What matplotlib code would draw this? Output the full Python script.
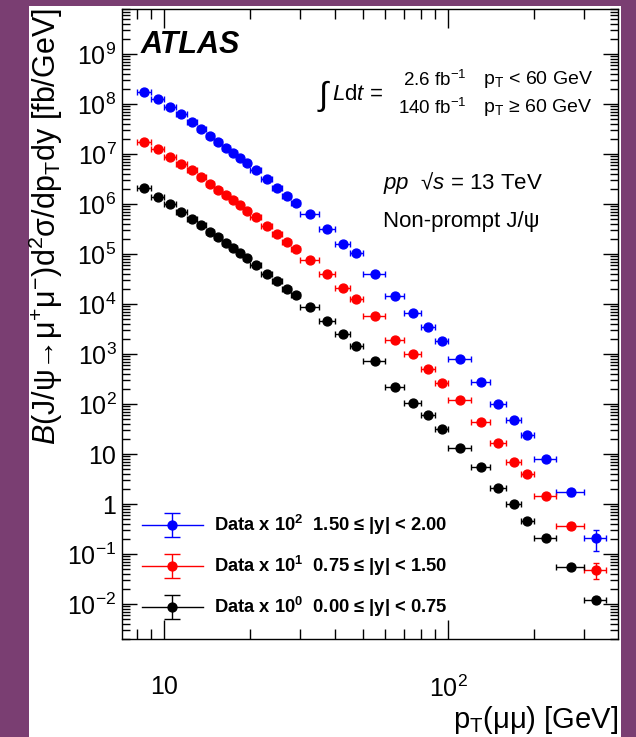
import numpy as np
import matplotlib
matplotlib.use('Agg')
import matplotlib.pyplot as plt
from matplotlib.patches import Rectangle
from matplotlib.ticker import LogLocator, FuncFormatter, NullFormatter
from matplotlib.legend_handler import HandlerErrorbar, HandlerTuple
from matplotlib.container import ErrorbarContainer
from matplotlib.lines import Line2D

plt.rcParams['font.family'] = ['Liberation Sans', 'DejaVu Sans']
plt.rcParams['mathtext.fontset'] = 'custom'
plt.rcParams['mathtext.rm'] = 'Liberation Sans'
plt.rcParams['mathtext.it'] = 'Liberation Sans:italic'
plt.rcParams['mathtext.bf'] = 'Liberation Sans:bold'
plt.rcParams['mathtext.sf'] = 'Liberation Sans'

# ---------------- data ----------------
pt_edges = [8, 9, 10, 11, 12, 13, 14, 15, 16, 17, 18, 19, 20, 22, 24, 26, 28, 30,
            35, 40, 45, 50, 60, 70, 80, 90, 100, 120, 140, 160, 180, 200, 240, 300, 360]

# plotted values (already scaled by 10^2, 10^1, 10^0)
xs_blue = [1.77e8, 1.27e8, 8.9e7, 6.27e7, 4.4e7, 3.18e7, 2.31e7, 1.77e7, 1.35e7, 1.04e7,
           8.5e6, 6.65e6, 4.82e6, 3.18e6, 2.07e6, 1.46e6, 1.07e6, 6.35e5, 3.14e5, 1.62e5,
           1.04e5, 4.0e4, 1.46e4, 6.56e3, 3.54e3, 1.83e3, 811, 274, 101, 48.2,
           23.8, 7.9, 1.73, 0.21]
xs_red = [1.77e7, 1.27e7, 8.9e6, 6.44e6, 4.75e6, 3.44e6, 2.56e6, 1.95e6, 1.52e6, 1.19e6,
          9.5e5, 7.4e5, 5.53e5, 3.71e5, 2.53e5, 1.73e5, 1.25e5, 7.74e4, 4.05e4, 2.12e4,
          1.24e4, 5.8e3, 1.95e3, 993, 512, 265, 123, 44, 16.5, 7.06,
          4.0, 1.48, 0.366, 0.049]
xs_black = [2.07e6, 1.41e6, 9.93e5, 7.06e5, 5.12e5, 3.78e5, 2.81e5, 2.17e5, 1.67e5, 1.31e5,
            1.04e5, 8.26e4, 6.07e4, 4.06e4, 2.86e4, 1.98e4, 1.50e4, 8.9e3, 4.6e3, 2.53e3,
            1.46e3, 729, 217, 107, 59.8, 31.8, 13.5, 5.46, 2.07, 1.02,
            0.456, 0.206, 0.0548, 0.0121]

# relative uncertainties
rel_blue = [0.04] * 28 + [0.05, 0.06, 0.08, 0.1, 0.15, 0.45]
rel_red = [0.04] * 28 + [0.05, 0.06, 0.07, 0.09, 0.12, 0.35]
rel_black = [0.04] * 28 + [0.04, 0.05, 0.06, 0.07, 0.09, 0.12]

labels = [r"Data x 10$^{\mathbf{2}}$  1.50 ≤ |y| < 2.00",
          r"Data x 10$^{\mathbf{1}}$  0.75 ≤ |y| < 1.50",
          r"Data x 10$^{\mathbf{0}}$  0.00 ≤ |y| < 0.75"]
colors = ['#0000ff', '#ff0000', '#000000']

# ---------------- figure ----------------
W, H = 636, 737
fig = plt.figure(figsize=(W / 100, H / 100), dpi=100)
fig.patch.set_facecolor('#7a3e72')
fig.patches.append(Rectangle((29 / W, 0), (621 - 29) / W, 1 - 6 / H,
                             transform=fig.transFigure, facecolor='white',
                             edgecolor='none', zorder=-5))

ax = fig.add_axes([122 / W, 1 - 639 / H, (618 - 122) / W, (639 - 9) / H])
ax.set_facecolor('white')
ax.set_xscale('log')
ax.set_yscale('log')
ax.set_xlim(7.1, 396)
ax.set_ylim(2e-3, 8e9)

edges = np.array(pt_edges, dtype=float)
centers = 0.5 * (edges[:-1] + edges[1:])
halfw = 0.5 * (edges[1:] - edges[:-1])

series = [(xs_blue, rel_blue), (xs_red, rel_red), (xs_black, rel_black)]
handles = []
for (vals, rel), col, lab in zip(series, colors, labels):
    v = np.array(vals)
    e = v * np.array(rel)
    ax.errorbar(centers, v, xerr=halfw, yerr=e, fmt='o', color=col, ms=6.4,
                elinewidth=1.0, capsize=2.4, capthick=1.0, zorder=3)
    ln = Line2D([], [], color=col, lw=1.0)
    eb = ax.errorbar([np.nan], [np.nan], yerr=[1.0], fmt='o', color=col, ms=6.4,
                     elinewidth=1.0, capsize=6, capthick=1.0)
    handles.append((ln, eb))

leg = ax.legend(handles=handles, labels=labels,
                handler_map={tuple: HandlerTuple(ndivide=1, pad=0),
                             ErrorbarContainer: HandlerErrorbar(yerr_size=0.65)},
                loc='upper left', bbox_to_anchor=(142 / W, 1 - 513 / H),
                bbox_transform=fig.transFigure, frameon=False,
                prop={'weight': 'bold', 'size': 13.2}, handlelength=3.3,
                handletextpad=0.65, labelspacing=0.92, borderpad=0, borderaxespad=0)

# ---------------- ticks ----------------
def yfmt(v, pos):
    e = int(round(np.log10(v)))
    if e == 0:
        return '1'
    if e == 1:
        return '10'
    if e < 0:
        return r'$10^{-%d}$' % (-e)
    return r'$10^{%d}$' % e

def xfmt(v, pos):
    e = int(round(np.log10(v)))
    if e == 1:
        return '10'
    return r'$10^{%d}$' % e

ax.yaxis.set_major_locator(LogLocator(base=10, numticks=30))
ax.yaxis.set_minor_locator(LogLocator(base=10, subs=np.arange(2, 10), numticks=200))
ax.yaxis.set_major_formatter(FuncFormatter(yfmt))
ax.yaxis.set_minor_formatter(NullFormatter())
ax.xaxis.set_major_locator(LogLocator(base=10, numticks=10))
ax.xaxis.set_minor_locator(LogLocator(base=10, subs=np.arange(2, 10), numticks=50))
ax.xaxis.set_major_formatter(FuncFormatter(xfmt))
ax.xaxis.set_minor_formatter(NullFormatter())

ax.tick_params(which='both', direction='in', top=True, right=True, width=1.0, color='black')
ax.tick_params(axis='y', which='major', length=11, labelsize=18, pad=4)
ax.tick_params(axis='y', which='minor', length=6)
ax.tick_params(axis='x', which='major', length=14, labelsize=18, pad=26)
ax.tick_params(axis='x', which='minor', length=7)
for s in ax.spines.values():
    s.set_linewidth(1.0)

# ---------------- labels ----------------
fig.text(618 / W, 1 - 720 / H, r'p$_{\mathregular{T}}$(μμ) [GeV]', ha='right', va='center',
         fontsize=21)
fig.text(46 / W, 1 - 8 / H,
         r'$B$(J/ψ→μ$^{\mathregular{+}}$μ$^{\mathregular{-}}$)d$^{\mathregular{2}}$σ/dp$_{\mathregular{T}}$dy [fb/GeV]',
         rotation=90, ha='center', va='top', fontsize=22)

fig.text(141 / W, 1 - 45 / H, 'ATLAS', fontsize=22, fontweight='bold', fontstyle='italic',
         ha='left', va='center')
fig.text(319 / W, 1 - 96 / H, '∫', fontsize=24, ha='left', va='center')
fig.text(332 / W, 1 - 95 / H, r'$L$d$t$ =', fontsize=16, ha='left', va='center')
fig.text(467 / W, 1 - 80 / H, r'2.6 fb$^{\mathregular{-1}}$', fontsize=13.5, ha='right', va='center')
fig.text(467 / W, 1 - 108 / H, r'140 fb$^{\mathregular{-1}}$', fontsize=13.5, ha='right', va='center')
fig.text(483 / W, 1 - 80 / H, r'p$_{\mathregular{T}}$ < 60 GeV', fontsize=14, ha='left', va='center')
fig.text(483 / W, 1 - 108 / H, r'p$_{\mathregular{T}}$ ≥ 60 GeV', fontsize=14, ha='left', va='center')
fig.text(383 / W, 1 - 183 / H, r'$pp$  √$s$ = 13 TeV', fontsize=16, ha='left', va='center')
fig.text(383 / W, 1 - 222 / H, r'Non-prompt J/ψ', fontsize=16, ha='left', va='center')

fig.savefig('out.png', dpi=100, facecolor=fig.get_facecolor())
